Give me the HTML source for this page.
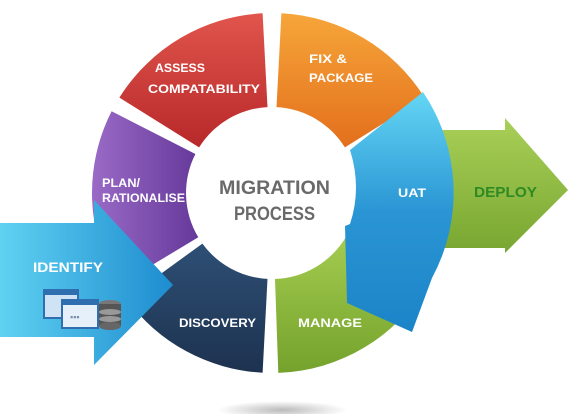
<!DOCTYPE html>
<html><head><meta charset="utf-8"><style>
html,body{margin:0;padding:0;background:#fff;width:576px;height:414px;overflow:hidden}
text{font-family:"Liberation Sans",sans-serif;font-weight:bold}
</style></head><body>
<svg width="576" height="414" viewBox="0 0 576 414" xmlns="http://www.w3.org/2000/svg">
<defs>
<linearGradient id="gr" x1="0" y1="0" x2="0" y2="1"><stop offset="0" stop-color="#e0554c"/><stop offset="1" stop-color="#b8282a"/></linearGradient>
<linearGradient id="go" x1="0" y1="0" x2="0" y2="1"><stop offset="0" stop-color="#f6a63a"/><stop offset="1" stop-color="#e36f1c"/></linearGradient>
<linearGradient id="gp" x1="0" y1="0" x2="1" y2="0"><stop offset="0" stop-color="#9a6ac6"/><stop offset="1" stop-color="#65399a"/></linearGradient>
<linearGradient id="gn" x1="0" y1="0" x2="0" y2="1"><stop offset="0" stop-color="#2e4f75"/><stop offset="1" stop-color="#1d324f"/></linearGradient>
<linearGradient id="gg" x1="0" y1="0" x2="0" y2="1"><stop offset="0" stop-color="#a4cc50"/><stop offset="1" stop-color="#74a22c"/></linearGradient>
<linearGradient id="gb" x1="0" y1="0" x2="0" y2="1"><stop offset="0" stop-color="#64d6f4"/><stop offset="0.5" stop-color="#2a95d4"/><stop offset="1" stop-color="#1b84c8"/></linearGradient>
<linearGradient id="gi" x1="0" y1="0" x2="1" y2="0"><stop offset="0" stop-color="#5fd2f2"/><stop offset="1" stop-color="#1e8ccf"/></linearGradient>
<linearGradient id="gd" x1="0" y1="0" x2="0" y2="1"><stop offset="0" stop-color="#a9d058"/><stop offset="1" stop-color="#78a630"/></linearGradient>
<radialGradient id="sh" cx="0.5" cy="0.5" r="0.5"><stop offset="0" stop-color="#bbb"/><stop offset="1" stop-color="#fff"/></radialGradient>
</defs>
<ellipse cx="282" cy="410" rx="65" ry="9" fill="url(#sh)"/>
<!-- deploy arrow -->
<polygon points="440,130 505,130 505,118 568,190 505,253 505,248 440,248" fill="url(#gd)"/>
<!-- ring segments -->
<path d="M262.6,13.3 A180,180 0 0 0 119.4,97.6 L199.1,147.4 A86,86 0 0 1 267.5,107.1 Z" fill="url(#gr)"/>
<path d="M281.4,13.3 A180,180 0 0 1 424.6,97.6 L344.9,147.4 A86,86 0 0 0 276.5,107.1 Z" fill="url(#go)"/>
<path d="M111.6,111.3 A180,180 0 0 0 117.7,285.7 L198.3,237.3 A86,86 0 0 1 195.4,154 Z" fill="url(#gp)"/>
<path d="M126.4,298.8 A180,180 0 0 0 262.6,372.7 L267.5,278.9 A86,86 0 0 1 202.4,243.6 Z" fill="url(#gn)"/>
<path d="M427.9,283 A180,180 0 0 1 278.3,372.9 L275,279 A86,86 0 0 0 346.5,236 Z" fill="url(#gg)"/>
<!-- UAT arrow -->
<path d="M350,150 L423,92 A180,180 0 0 1 432,278 L412,332 L347,303 L345,226 L350,224 Q362,188 350,150 Z" fill="url(#gb)"/>
<!-- identify arrow -->
<polygon points="0,223 94,223 94,200 173,285 94,365 94,337 0,337" fill="url(#gi)"/>
<!-- icon -->
<rect x="44" y="290" width="34" height="28" fill="#cfe3f5" stroke="#2f6fb0" stroke-width="2"/>
<rect x="44" y="290" width="34" height="5" fill="#2f6fb0"/>
<rect x="62" y="300" width="36" height="28" fill="#e6f0fa" stroke="#2f6fb0" stroke-width="2"/>
<rect x="62" y="300" width="36" height="5" fill="#2f6fb0"/>
<text x="70" y="320" font-size="9" fill="#7a8fa8">▪▪▪</text>
<ellipse cx="110" cy="304" rx="11" ry="4" fill="#777"/>
<rect x="99" y="304" width="22" height="22" fill="#555"/>
<ellipse cx="110" cy="312" rx="11" ry="3" fill="#999"/>
<ellipse cx="110" cy="319" rx="11" ry="3" fill="#999"/>
<ellipse cx="110" cy="326" rx="11" ry="4" fill="#666"/>
<!-- labels -->
<g fill="#fff" font-size="12">
<text x="155" y="72" textLength="50" lengthAdjust="spacingAndGlyphs">ASSESS</text>
<text x="148" y="93" textLength="112" lengthAdjust="spacingAndGlyphs">COMPATABILITY</text>
<text x="309" y="63" textLength="38" lengthAdjust="spacingAndGlyphs">FIX &amp;</text>
<text x="309" y="82" textLength="64" lengthAdjust="spacingAndGlyphs">PACKAGE</text>
<text x="102" y="187" textLength="38" lengthAdjust="spacingAndGlyphs">PLAN/</text>
<text x="102" y="202" textLength="83" lengthAdjust="spacingAndGlyphs">RATIONALISE</text>
<text x="398" y="197" textLength="28" lengthAdjust="spacingAndGlyphs">UAT</text>
<text x="179" y="327" textLength="77" lengthAdjust="spacingAndGlyphs">DISCOVERY</text>
<text x="298" y="327" textLength="64" lengthAdjust="spacingAndGlyphs">MANAGE</text>
<text x="33" y="272" font-size="14" textLength="70" lengthAdjust="spacingAndGlyphs">IDENTIFY</text>
</g>
<text x="474" y="197" font-size="15" fill="#2f8a24" textLength="63" lengthAdjust="spacingAndGlyphs">DEPLOY</text>
<text x="219" y="194" font-size="19" fill="#6a6a6a" textLength="111" lengthAdjust="spacingAndGlyphs">MIGRATION</text>
<text x="234" y="220" font-size="19" fill="#6a6a6a" textLength="81" lengthAdjust="spacingAndGlyphs">PROCESS</text>
</svg>
</body></html>
